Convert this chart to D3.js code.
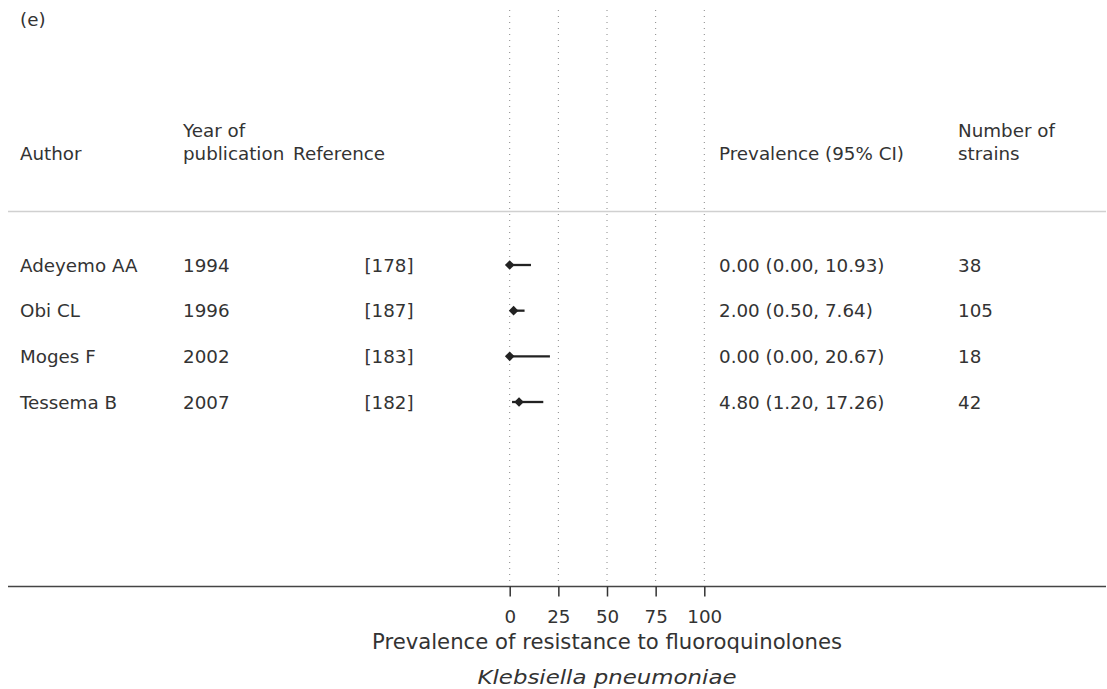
<!DOCTYPE html>
<html><head><meta charset="utf-8">
<script src="https://cdn.jsdelivr.net/npm/d3@7"></script>
<style>body{margin:0;background:#fff}svg{display:block}text{font-family:"DejaVu Sans",sans-serif;fill:#333}</style>
</head><body>
<svg id="c" width="1107" height="689"></svg>
<script>
const authors = ["Adeyemo AA", "Obi CL", "Moges F", "Tessema B"];
const years = ["1994", "1996", "2002", "2007"];
const refs = ["[178]", "[187]", "[183]", "[182]"];
const prevalence = [0.00, 2.00, 0.00, 4.80];
const lower = [0.00, 0.50, 0.00, 1.20];
const upper = [10.93, 7.64, 20.67, 17.26];
const strains = [38, 105, 18, 42];
const ticks = [0, 25, 50, 75, 100];

const svg = d3.select("#c");
const fs = 18.3;
const x = d3.scaleLinear().domain([0, 100]).range([509.7, 704.3]);
const y = d3.scalePoint().domain(authors).range([265, 402]);

// gridlines
svg.append("g").selectAll("line").data(ticks).join("line")
  .attr("x1", d => x(d)).attr("x2", d => x(d))
  .attr("y1", 10).attr("y2", 586)
  .attr("stroke", "#888").attr("stroke-width", 1).attr("stroke-dasharray", "1,5");

// header separator
svg.append("line").attr("x1", 8).attr("x2", 1106).attr("y1", 211.5).attr("y2", 211.5)
  .attr("stroke", "#d0d0d0").attr("stroke-width", 1.5);

// title
svg.append("text").attr("x", 20).attr("y", 26).attr("font-size", fs).text("(e)");

// headers
const hdr = [
  {x: 20, lines: ["Author"]},
  {x: 183, lines: ["Year of", "publication"]},
  {x: 293, lines: ["Reference"]},
  {x: 719, lines: ["Prevalence (95% CI)"]},
  {x: 958, lines: ["Number of", "strains"]}
];
hdr.forEach(h => {
  h.lines.forEach((l, i) => {
    svg.append("text").attr("x", h.x).attr("y", 160 - (h.lines.length - 1 - i) * 23)
      .attr("font-size", fs).text(l);
  });
});

// row texts
const g = svg.append("g");
g.selectAll(".au").data(authors).join("text").attr("x", 20).attr("y", d => y(d) + 6.5).attr("font-size", fs).text(d => d);
g.selectAll(".yr").data(authors).join("text").attr("x", 183).attr("y", d => y(d) + 6.5).attr("font-size", fs).text((d, i) => years[i]);
g.selectAll(".rf").data(authors).join("text").attr("x", 389).attr("text-anchor", "middle").attr("y", d => y(d) + 6.5).attr("font-size", fs).text((d, i) => refs[i]);
g.selectAll(".pv").data(authors).join("text").attr("x", 719).attr("y", d => y(d) + 6.5).attr("font-size", fs)
  .text((d, i) => `${prevalence[i].toFixed(2)} (${lower[i].toFixed(2)}, ${upper[i].toFixed(2)})`);
g.selectAll(".ns").data(authors).join("text").attr("x", 958).attr("y", d => y(d) + 6.5).attr("font-size", fs).text((d, i) => strains[i]);

// CI lines
g.selectAll(".ci").data(authors).join("line")
  .attr("x1", (d, i) => x(lower[i])).attr("x2", (d, i) => x(upper[i]))
  .attr("y1", d => y(d)).attr("y2", d => y(d))
  .attr("stroke", "#222").attr("stroke-width", 2.3);
// diamonds
g.selectAll(".pt").data(authors).join("path")
  .attr("d", (d, i) => { const cx = x(prevalence[i]), cy = y(d), r = 4.8; return `M${cx-r},${cy}L${cx},${cy-r}L${cx+r},${cy}L${cx},${cy+r}Z`; })
  .attr("fill", "#222");

// axis
svg.append("line").attr("x1", 8).attr("x2", 1106).attr("y1", 586.5).attr("y2", 586.5)
  .attr("stroke", "#444").attr("stroke-width", 1.5);
const ax = svg.append("g").attr("transform", "translate(0,586.5)")
  .call(d3.axisBottom(x).tickValues(ticks).tickSize(10).tickPadding(14).tickFormat(d3.format("d")));
ax.select(".domain").remove();
ax.selectAll(".tick line").attr("stroke", "#333").attr("stroke-width", 1.5);
ax.selectAll(".tick text").attr("font-size", fs).attr("font-family", "DejaVu Sans").attr("fill", "#333");

svg.append("text").attr("x", x(50)).attr("y", 649).attr("text-anchor", "middle").attr("font-size", 21.2)
  .text("Prevalence of resistance to fluoroquinolones");
svg.append("text").attr("x", x(50)).attr("y", 684).attr("text-anchor", "middle").attr("font-size", 20)
  .attr("textLength", 259).attr("lengthAdjust", "spacingAndGlyphs")
  .attr("font-style", "italic").text("Klebsiella pneumoniae");
</script>
</body></html>
